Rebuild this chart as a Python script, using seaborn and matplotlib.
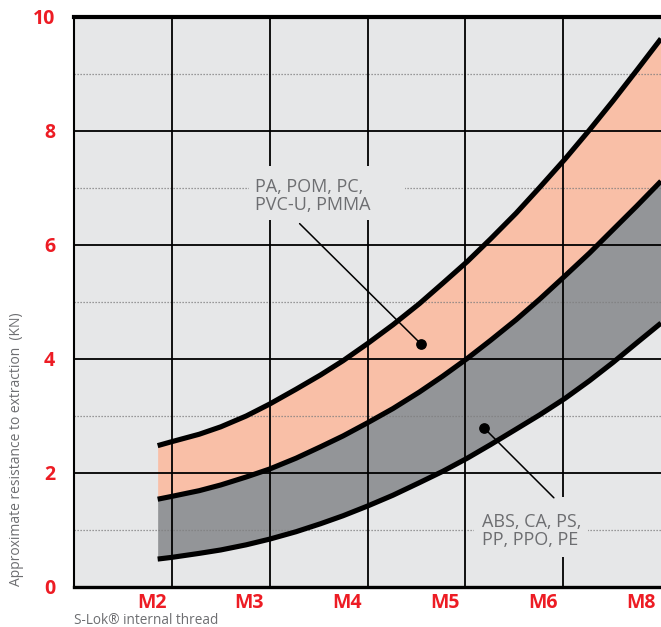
import numpy as np
import pandas as pd
import matplotlib
matplotlib.use('Agg')
import matplotlib.pyplot as plt
from matplotlib.patches import Rectangle
from matplotlib.transforms import ScaledTranslation
import seaborn as sns

# thread sizes on the x axis (grid positions 1..6)
threads = ['M2', 'M3', 'M4', 'M5', 'M6', 'M8']
thread_pos = [1, 2, 3, 4, 5, 6]

# curve samples (x in grid units, y in KN)
curve_x = [0.855, 1.0, 1.28, 1.5, 1.76, 2.0, 2.27, 2.52, 2.75, 3.0, 3.26,
           3.53, 3.77, 4.02, 4.26, 4.52, 4.76, 5.02, 5.27, 5.51, 5.75, 6.0]
upper = [2.48, 2.55, 2.68, 2.81, 3.00, 3.21, 3.47, 3.72, 3.97, 4.27, 4.60,
         4.97, 5.33, 5.71, 6.11, 6.56, 7.01, 7.51, 8.02, 8.53, 9.06, 9.62]
middle = [1.54, 1.59, 1.69, 1.79, 1.93, 2.07, 2.26, 2.46, 2.65, 2.88, 3.13,
          3.42, 3.70, 4.01, 4.33, 4.69, 5.05, 5.46, 5.86, 6.27, 6.68, 7.12]
lower = [0.49, 0.52, 0.59, 0.65, 0.74, 0.84, 0.97, 1.11, 1.25, 1.42, 1.61,
         1.83, 2.03, 2.26, 2.50, 2.77, 3.02, 3.31, 3.62, 3.94, 4.28, 4.63]

major_y = [2, 4, 6, 8]
minor_y = [1, 3, 5, 7, 9]
y_ticks = [0, 2, 4, 6, 8, 10]

label_hard = 'PA, POM, PC,\nPVC-U, PMMA'
label_soft = 'ABS, CA, PS,\nPP, PPO, PE'

RED = '#ED1C24'
GREY_TXT = '#6D6E71'
BG = '#E6E7E8'
SALMON = '#F9BFA7'
DARK = '#939598'

sns.set_style('white')
plt.rcParams['font.family'] = ['Open Sans', 'DejaVu Sans']

df = pd.DataFrame({'x': curve_x, 'upper': upper, 'middle': middle, 'lower': lower})

fig = plt.figure(figsize=(6.61, 6.27), dpi=100)
ax = fig.add_axes([74 / 661, 40 / 627, 587 / 661, 570 / 627])
ax.set_facecolor(BG)
ax.set_xlim(0, 6)
ax.set_ylim(0, 10)

# bands
ax.fill_between(df['x'], df['middle'], df['upper'], color=SALMON, lw=0, zorder=1)
ax.fill_between(df['x'], df['lower'], df['middle'], color=DARK, lw=0, zorder=1)

# grid
for y in minor_y:
    ax.axhline(y, color='#7f7f7f', lw=0.9, ls=(0, (1, 1.4)), zorder=2)
for y in major_y:
    ax.axhline(y, color='black', lw=1.3, zorder=2)
for x in thread_pos[:-1]:
    ax.axvline(x, color='black', lw=1.3, zorder=2)

# text boxes hide the grid behind the labels
ax.add_patch(Rectangle((1.793, 6.43), 1.587, 0.96, color=BG, lw=0, zorder=3))
ax.add_patch(Rectangle((4.086, 0.534), 1.167, 1.043, color=BG, lw=0, zorder=3))

for col in ['upper', 'middle', 'lower']:
    sns.lineplot(data=df, x='x', y=col, color='black', lw=3.7, ax=ax, zorder=5,
                 solid_capstyle='butt', solid_joinstyle='round')

# annotations
ax.text(1.855, 6.86, label_hard, color=GREY_TXT, fontsize=13, ha='left', va='center',
        linespacing=1.0, zorder=6)
ax.text(4.175, 0.99, label_soft, color=GREY_TXT, fontsize=13, ha='left', va='center',
        linespacing=1.0, zorder=6)
ax.plot([3.543, 2.306], [4.27, 6.375], color='black', lw=1.1, zorder=6)
ax.plot([4.191, 4.905], [2.79, 1.565], color='black', lw=1.1, zorder=6)
ax.scatter([3.543, 4.191], [4.27, 2.79], s=45, color='black', zorder=7)

# axes styling
ax.spines['right'].set_visible(False)
ax.spines['top'].set_linewidth(3)
ax.spines['bottom'].set_linewidth(2.4)
ax.spines['left'].set_linewidth(1.5)
for s in ['top', 'bottom', 'left']:
    ax.spines[s].set_color('black')
    ax.spines[s].set_zorder(8)

ax.set_yticks(y_ticks)
ax.set_yticklabels([str(v) for v in y_ticks])
ax.set_xticks(thread_pos)
ax.set_xticklabels(threads)
ax.tick_params(axis='y', direction='out', length=10.5, width=1.3, color='black', pad=3,
               labelsize=14, labelcolor=RED)
ax.tick_params(axis='x', direction='out', length=8.5, width=1.3, color='black', pad=-4,
               labelsize=14, labelcolor=RED)
for lab in ax.get_yticklabels() + ax.get_xticklabels():
    lab.set_fontweight('bold')
for lab in ax.get_xticklabels():
    lab.set_horizontalalignment('right')
    lab.set_transform(lab.get_transform() + ScaledTranslation(-4 / 72, 0, fig.dpi_scale_trans))

ax.set_xlabel('')
ax.set_ylabel('')
fig.text(0.0257, 0.284, 'Approximate resistance to extraction  (KN)', rotation=90,
         color=GREY_TXT, fontsize=10, ha='center', va='center')
fig.text(74 / 661, 0.010, 'S-Lok\u00ae internal thread', color=GREY_TXT, fontsize=9.8,
         ha='left', va='center')

fig.savefig('out.png', dpi=100)
